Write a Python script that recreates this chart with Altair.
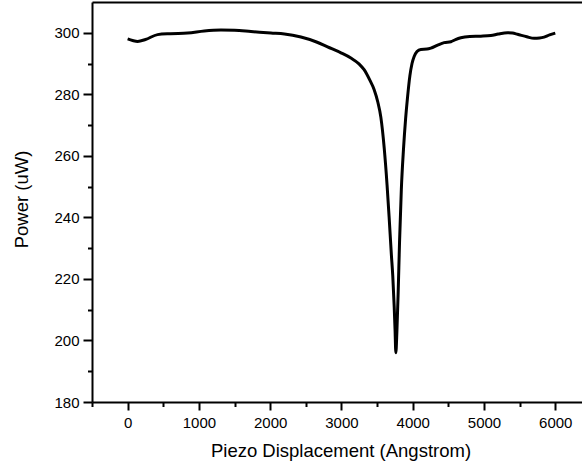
import altair as alt
import pandas as pd

# Data
displacement = [0, 70, 140, 250, 420, 600, 841, 1075, 1309, 1500, 1730, 2010, 2200, 2431, 2650,
                2805, 3000, 3132, 3250, 3318, 3400, 3459, 3510, 3553, 3600, 3640, 3669, 3700, 3720, 3740,
                3752, 3763, 3778, 3795, 3815, 3840, 3870, 3900, 3927, 3960, 3990, 4020, 4060, 4114,
                4200, 4254, 4350, 4441, 4535, 4600, 4675, 4800, 4955, 5096, 5200, 5330, 5400, 5470, 5600,
                5703, 5780, 5843, 5920, 6000]
power = [298.0, 297.5, 297.2, 297.8, 299.4, 299.7, 299.9, 300.6, 300.9, 300.8, 300.4, 299.9, 299.6, 298.6, 297.0,
         295.4, 293.4, 291.8, 289.8, 288.0, 284.5, 281.5, 277.5, 272.5, 262.5, 250.5, 240.0, 228.0, 221.0, 211.0,
         203.5, 196.0, 203.0, 215.0, 232.0, 249.0, 262.0, 272.0, 279.0, 286.0, 290.0, 292.3, 293.9, 294.6,
         294.7, 295.0, 296.0, 296.8, 297.1, 297.8, 298.4, 298.8, 298.9, 299.1, 299.6, 300.0, 299.9, 299.5, 298.7,
         298.2, 298.3, 298.6, 299.3, 299.9]

x_major = [0, 1000, 2000, 3000, 4000, 5000, 6000]
x_minor = [-500, 500, 1500, 2500, 3500, 4500, 5500]
y_major = [180, 200, 220, 240, 260, 280, 300]
y_minor = [190, 210, 230, 250, 270, 290]

df = pd.DataFrame({"x": displacement, "p": power})

FONT = "Liberation Sans"
xs = alt.Scale(domain=[-500, 6375], nice=False, zero=False)
ys = alt.Scale(domain=[180, 310], nice=False, zero=False)

base = alt.Chart(df)

main = base.mark_line(color="black", strokeWidth=3, interpolate="monotone").encode(
    x=alt.X("x:Q", scale=xs, axis=alt.Axis(
        values=x_major, orient="bottom", title="Piezo Displacement (Angstrom)",
        tickSize=8, tickWidth=2, tickColor="black", domainColor="black", domainWidth=2,
        labelFont=FONT, labelFontSize=15, labelColor="black", labelPadding=5,
        titleFont=FONT, titleFontSize=18.5, titleFontWeight="normal", titleColor="black",
        titleX=248.5, titleY=54, titleBaseline="alphabetic", titleAlign="center",
        grid=False, format="d")),
    y=alt.Y("p:Q", scale=ys, axis=alt.Axis(
        values=y_major, orient="left", title="Power (uW)",
        tickSize=9, tickWidth=2, tickColor="black", domainColor="black", domainWidth=2,
        labelFont=FONT, labelFontSize=15, labelColor="black", labelPadding=4,
        titleFont=FONT, titleFontSize=18.5, titleFontWeight="normal", titleColor="black",
        titleX=-65, titleY=197, titleBaseline="alphabetic", titleAlign="center", titleAngle=270,
        grid=False, format="d")),
)

minor = base.mark_line(opacity=0).encode(
    x=alt.X("x:Q", scale=xs, axis=alt.Axis(
        values=x_minor, orient="bottom", title=None, labels=False, domain=False,
        tickSize=4.5, tickWidth=2, tickColor="black", grid=False)),
    y=alt.Y("p:Q", scale=ys, axis=alt.Axis(
        values=y_minor, orient="left", title=None, labels=False, domain=False,
        tickSize=4.5, tickWidth=2, tickColor="black", grid=False)),
)

top = base.mark_line(opacity=0).encode(
    x=alt.X("x:Q", scale=xs, axis=alt.Axis(
        orient="top", title=None, labels=False, ticks=False, domain=True,
        domainColor="black", domainWidth=2, grid=False)),
    y=alt.Y("p:Q", scale=ys, axis=None),
)

chart = alt.layer(main, minor, top).resolve_axis(
    x="independent", y="independent"
).properties(
    width=490, height=400,
    autosize=alt.AutoSizeParams(type="none"),
    padding={"left": 92, "top": 2, "right": 0, "bottom": 67},
    background="white",
).configure_view(stroke=None)

chart.save("out.html", embed_options={"renderer": "svg", "actions": False})
